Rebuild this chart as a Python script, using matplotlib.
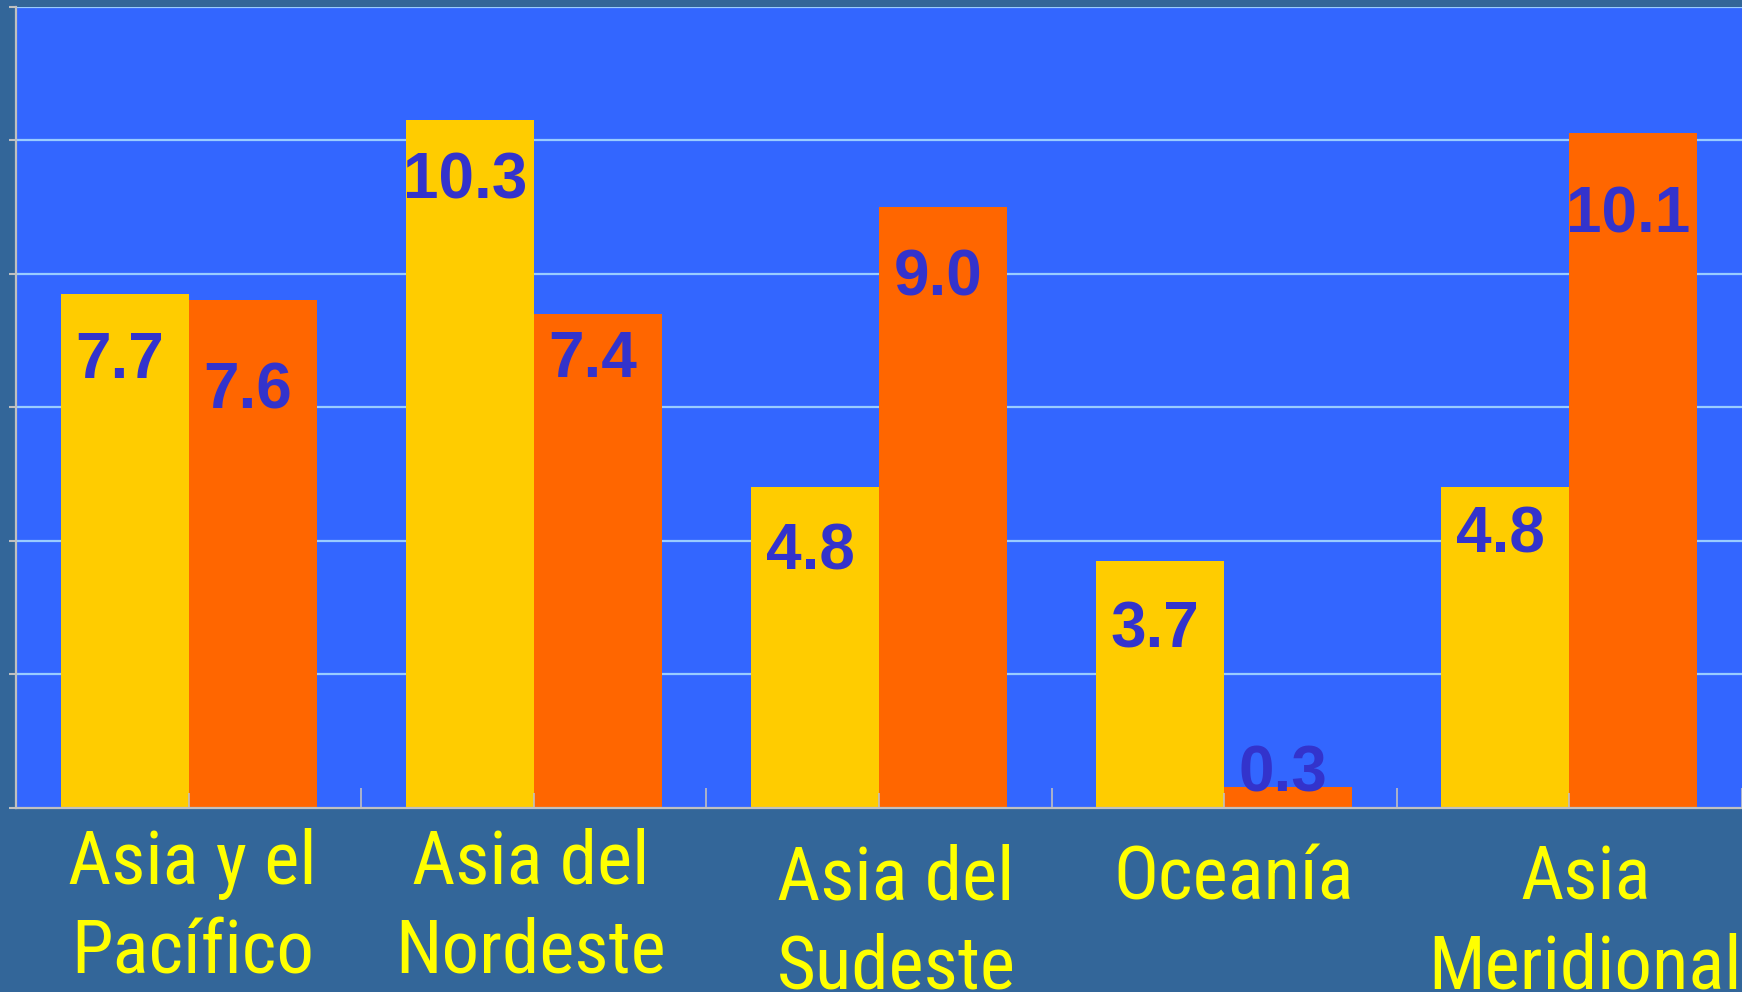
import matplotlib
matplotlib.use("Agg")
import matplotlib.pyplot as plt
from matplotlib.ticker import MultipleLocator, FixedLocator
import numpy as np

# ---- data ----
categories = ["Asia y el\nPacífico", "Asia del\nNordeste", "Asia del\nSudeste",
              "Oceanía", "Asia\nMeridional"]
series_a = [7.7, 10.3, 4.8, 3.7, 4.8]    # yellow
series_b = [7.6, 7.4, 9.0, 0.3, 10.1]    # orange
value_labels_a = ["7.7", "10.3", "4.8", "3.7", "4.8"]
value_labels_b = ["7.6", "7.4", "9.0", "0.3", "10.1"]

# ---- style / label placement (pixels) ----
COL_A = "#ffcc00"
COL_B = "#ff6600"
FIG_BG = "#336699"
AX_BG = "#3366ff"
GRID = "#99ccff"
AXIS_GRAY = "#c0c0c0"
VAL_COL = "#3333cc"
CAT_COL = "#ffff00"

lab_base_a = [84, 79, 82, 87, 65]     # baseline below bar top, px
lab_base_b = [108, 63, 89, 4, 99]
cat_dx = [4, -3, 17, 9, 16]           # px
cat_dy = [76, 76, 92, 92, 92]         # first baseline below axis, px
cat_line_gap = 89

W, H = 1742, 992
fig = plt.figure(figsize=(W / 100, H / 100), dpi=100, facecolor=FIG_BG)
ax = fig.add_axes([16 / W, 1 - 807.5 / H, 1 - 16 / W, (807.5 - 6.5) / H])
ax.set_facecolor(AX_BG)

x = np.arange(len(categories))
bw = 0.371
ax.bar(x - bw / 2, series_a, width=bw, color=COL_A, zorder=1)
ax.bar(x + bw / 2, series_b, width=bw, color=COL_B, zorder=1)

ax.set_xlim(-0.5, len(categories) - 0.5)
ax.set_ylim(0, 12)
ax.yaxis.set_major_locator(MultipleLocator(2))
for yv in ax.get_yticks():
    if yv > 0:
        ax.axhline(yv, color=GRID, lw=1.6, zorder=0.5)

ax.set_yticklabels([])
ax.xaxis.set_major_locator(FixedLocator(x))
ax.xaxis.set_minor_locator(FixedLocator(np.arange(len(categories) + 1) - 0.5))
ax.set_xticklabels([])
ax.tick_params(axis="x", which="major", direction="in", length=10.8, width=1.2,
               color=AXIS_GRAY)
ax.tick_params(axis="x", which="minor", direction="in", length=14.4, width=1.2,
               color=AXIS_GRAY)
ax.tick_params(axis="y", which="major", direction="out", length=5, width=1.5,
               color=AXIS_GRAY)
for s in ["top", "right"]:
    ax.spines[s].set_visible(False)
for s in ["left", "bottom"]:
    ax.spines[s].set_color(AXIS_GRAY)
    ax.spines[s].set_linewidth(1.6)
    ax.spines[s].set_zorder(3)

val_font = dict(family=["Liberation Sans", "DejaVu Sans"], fontsize=46,
                fontweight="bold", color=VAL_COL)
for i in range(len(categories)):
    ax.annotate(value_labels_a[i], xy=(x[i] - bw / 2, series_a[i]),
                xytext=(-5, -lab_base_a[i]), textcoords="offset pixels",
                ha="center", va="baseline", zorder=5, **val_font)
    ax.annotate(value_labels_b[i], xy=(x[i] + bw / 2, series_b[i]),
                xytext=(-5, -lab_base_b[i]), textcoords="offset pixels",
                ha="center", va="baseline", zorder=5, **val_font)

cat_font = dict(family=["Roboto Condensed", "Liberation Sans", "DejaVu Sans"],
                fontsize=54, color=CAT_COL)
for i, lab in enumerate(categories):
    for k, line in enumerate(lab.split("\n")):
        ax.annotate(line, xy=(x[i], 0), xycoords=("data", "axes fraction"),
                    xytext=(cat_dx[i], -cat_dy[i] - k * cat_line_gap),
                    textcoords="offset pixels", ha="center", va="baseline",
                    annotation_clip=False, **cat_font)

fig.savefig("out.png", dpi=100, facecolor=FIG_BG)
